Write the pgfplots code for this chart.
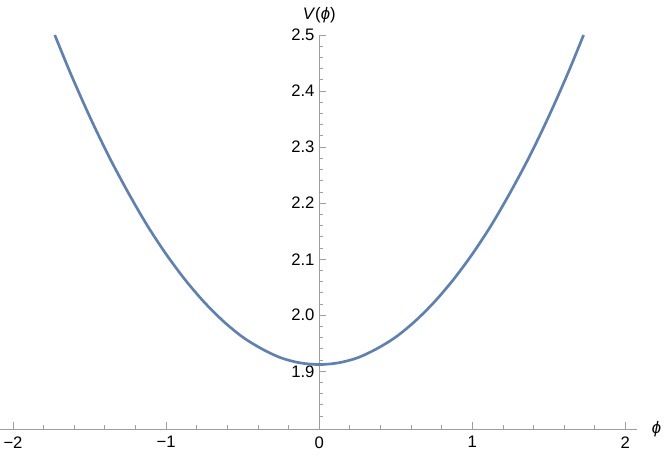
\documentclass[border=0pt]{standalone}
\usepackage{pgfplots}
\pgfplotsset{compat=1.18}
\usepackage{fontspec}
\setmainfont{Liberation Sans}
\definecolor{mmablue}{rgb}{0.368417,0.506779,0.709798}
\definecolor{axgray}{gray}{0.62}
\begin{document}
\begin{tikzpicture}
% page = 664x460 px at 0.75pt/px, axis box from (0,429) to (637,35) px
\path[use as bounding box] (0pt,-23.25pt) rectangle (498pt,321.75pt);
\begin{axis}[
    at={(0pt,0pt)}, anchor=south west,
    scale only axis,
    width=477.75pt, height=295.5pt,
    xmin=-2.085, xmax=2.076,
    ymin=1.797, ymax=2.5,
    axis x line=bottom, axis y line=center,
    axis line style={axgray, -},
    hide obscured x ticks=false,
    hide obscured y ticks=false,
    xtick={-2,-1,0,1,2},
    xticklabels={−2,−1,0,1,2},
    minor x tick num=4,
    ytick={1.9,2.0,2.1,2.2,2.3,2.4,2.5},
    minor ytick={1.82,1.84,1.86,1.88,1.92,1.94,1.96,1.98,2.02,2.04,2.06,2.08,2.12,2.14,2.16,2.18,2.22,2.24,2.26,2.28,2.32,2.34,2.36,2.38,2.42,2.44,2.46,2.48},
    yticklabel style={/pgf/number format/.cd, fixed, fixed zerofill, precision=1},
    /pgf/number format/assume math mode=true,
    tick align=inside,
    tick style={axgray, line width=0.6pt},
    major tick length=5.25pt,
    minor tick length=3pt,
    ticklabel style={font=\fontsize{12.5}{14}\selectfont},
    xticklabel style={yshift=-2pt},
    clip=false,
]
% values
\addplot[mmablue, line width=2pt, smooth] coordinates {
    (-1.727,2.500) (-1.625,2.432) (-1.5,2.355) (-1.375,2.284) (-1.25,2.220)
    (-1.125,2.161) (-1.0,2.109) (-0.875,2.063) (-0.75,2.023) (-0.625,1.989)
    (-0.5,1.961) (-0.375,1.940) (-0.25,1.924) (-0.125,1.915) (0,1.912)
    (0.125,1.915) (0.25,1.924) (0.375,1.940) (0.5,1.961) (0.625,1.989)
    (0.75,2.023) (0.875,2.063) (1.0,2.109) (1.125,2.161) (1.25,2.220)
    (1.375,2.284) (1.5,2.355) (1.625,2.432) (1.727,2.500)
};
\node[font=\fontsize{12.5}{14}\selectfont, inner sep=0pt] at (axis cs:0,2.5) [yshift=15pt] {\textit{V}(\textit{ϕ})};
\node[anchor=west, font=\fontsize{12.5}{14}\selectfont, inner sep=0pt] at (rel axis cs:1,0) [xshift=11pt] {\textit{ϕ}};
\end{axis}
\end{tikzpicture}
\end{document}
